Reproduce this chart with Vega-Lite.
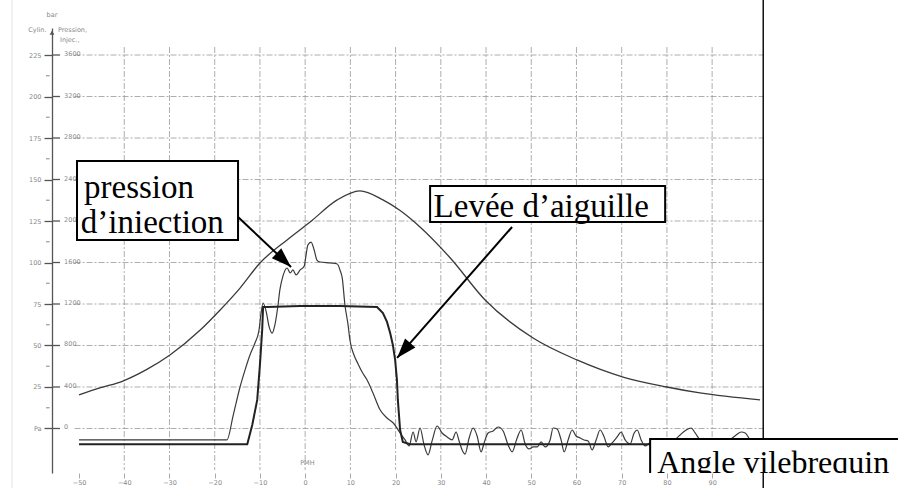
{
  "$schema": "https://vega.github.io/schema/vega-lite/v6.json",
  "width": 846,
  "height": 445,
  "autosize": {"type": "none"},
  "padding": {"left": 52, "top": 28, "right": 0, "bottom": 15},
  "background": "white",
  "config": {
    "view": {"stroke": null},
    "axis": {"grid": false, "title": null, "labelFont": "DejaVu Sans", "labelFontSize": 6.5, "labelColor": "#888", "labelFlush": false, "labelOverlap": false},
    "axisX": {"domain": false, "tickSize": 5, "tickColor": "#aaa", "labelPadding": 1},
    "axisY": {"domain": true, "domainColor": "#555", "domainWidth": 1.3, "tickSize": 8, "tickColor": "#555", "tickWidth": 1.3, "labelPadding": 3}
  },
  "datasets": {
    "cyl": [
      {"deg": -50, "val": 20.2}, {"deg": -45.4, "val": 24.4}, {"deg": -40.3, "val": 28.6},
      {"deg": -35, "val": 35.6}, {"deg": -29.9, "val": 44.3}, {"deg": -23.2, "val": 59.3},
      {"deg": -18.8, "val": 71.4}, {"deg": -14.4, "val": 84.6}, {"deg": -10, "val": 99.7},
      {"deg": -4, "val": 113.6}, {"deg": 1.1, "val": 124.4}, {"deg": 7.1, "val": 137.7},
      {"deg": 12.1, "val": 143.1}, {"deg": 17.2, "val": 137.7}, {"deg": 21, "val": 131.3},
      {"deg": 25.4, "val": 121.4}, {"deg": 32.1, "val": 102.7}, {"deg": 39.8, "val": 77.4},
      {"deg": 50.4, "val": 54.5}, {"deg": 60.1, "val": 41.3}, {"deg": 70.3, "val": 31.0},
      {"deg": 80, "val": 25.0}, {"deg": 87.3, "val": 21.4}, {"deg": 100.6, "val": 17.2}
    ],
    "lift": [
      {"deg": -50, "val": -9.5}, {"deg": -12.8, "val": -9.5}, {"deg": -11.7, "val": 2.1},
      {"deg": -10.6, "val": 17.2}, {"deg": -10, "val": 38.3}, {"deg": -9.5, "val": 59.3},
      {"deg": -9.3, "val": 73.2}, {"deg": -8.4, "val": 73.2}, {"deg": -1.1, "val": 73.8},
      {"deg": 7.7, "val": 73.8}, {"deg": 15.9, "val": 73.2}, {"deg": 17.2, "val": 69.6},
      {"deg": 18.1, "val": 64.2}, {"deg": 18.8, "val": 57.5}, {"deg": 19.4, "val": 50.3},
      {"deg": 19.9, "val": 41.3}, {"deg": 20.3, "val": 29.2}, {"deg": 20.5, "val": 17.2},
      {"deg": 21, "val": -0.9}, {"deg": 21.6, "val": -8.1}, {"deg": 23.2, "val": -9.5},
      {"deg": 100.6, "val": -9.5}
    ],
    "inj": [
      {"deg": -50, "val": -6.9}, {"deg": -17.3, "val": -6.9}, {"deg": -15.9, "val": 8.1},
      {"deg": -14.4, "val": 25.0}, {"deg": -13.3, "val": 35.2}, {"deg": -12.2, "val": 44.3},
      {"deg": -11.1, "val": 51.5}, {"deg": -10.2, "val": 59.3}, {"deg": -9.8, "val": 68.4},
      {"deg": -9.3, "val": 75.6}, {"deg": -8.6, "val": 70.2}, {"deg": -8.0, "val": 61.7},
      {"deg": -7.3, "val": 57.5}, {"deg": -6.7, "val": 62.3}, {"deg": -6.0, "val": 74.4},
      {"deg": -5.6, "val": 83.4}, {"deg": -4.9, "val": 91.9}, {"deg": -4.0, "val": 96.7},
      {"deg": -3.3, "val": 93.7}, {"deg": -2.7, "val": 95.5}, {"deg": -2.0, "val": 92.5},
      {"deg": -1.1, "val": 95.5}, {"deg": -0.2, "val": 97.9}, {"deg": 0.2, "val": 104.5},
      {"deg": 0.6, "val": 110.5}, {"deg": 1.3, "val": 112.3}, {"deg": 2.0, "val": 107.5},
      {"deg": 2.6, "val": 101.5}, {"deg": 3.3, "val": 100.3}, {"deg": 5.5, "val": 99.7},
      {"deg": 7.1, "val": 99.1}, {"deg": 7.7, "val": 95.5}, {"deg": 8.2, "val": 90.7},
      {"deg": 8.8, "val": 74.4}, {"deg": 9.5, "val": 62.3}, {"deg": 9.9, "val": 53.3},
      {"deg": 10.8, "val": 44.3}, {"deg": 11.7, "val": 38.9}, {"deg": 12.6, "val": 34.0},
      {"deg": 13.7, "val": 29.2}, {"deg": 15.0, "val": 21.4}, {"deg": 16.6, "val": 11.1},
      {"deg": 18.1, "val": 6.3}, {"deg": 19.5, "val": 3.3}, {"deg": 21.0, "val": -2.7},
      {"deg": 22.1, "val": -6.9}, {"deg": 23.0, "val": -10.5},
      {"deg": 23.87, "val": -2.1}, {"deg": 24.53, "val": -8.1}, {"deg": 25.41, "val": 0.3},
      {"deg": 26.3, "val": -9.9}, {"deg": 27.18, "val": -15.9}, {"deg": 28.07, "val": -7.5},
      {"deg": 29.18, "val": 1.5}, {"deg": 30.28, "val": -2.7}, {"deg": 31.39, "val": -5.1},
      {"deg": 32.49, "val": -6.9}, {"deg": 33.38, "val": -2.1}, {"deg": 34.04, "val": -7.5},
      {"deg": 34.71, "val": -12.9}, {"deg": 35.37, "val": -15.4}, {"deg": 36.26, "val": -5.7},
      {"deg": 37.14, "val": 0.3}, {"deg": 38.03, "val": -4.5}, {"deg": 38.91, "val": -14.1},
      {"deg": 39.57, "val": -8.7}, {"deg": 40.46, "val": -2.7}, {"deg": 41.56, "val": -1.5},
      {"deg": 42.67, "val": 0.9}, {"deg": 43.78, "val": -1.5}, {"deg": 44.88, "val": -9.9},
      {"deg": 45.77, "val": -14.1}, {"deg": 46.88, "val": -5.7}, {"deg": 47.76, "val": -0.9},
      {"deg": 48.65, "val": -9.3}, {"deg": 49.53, "val": -12.3}, {"deg": 50.42, "val": -11.1},
      {"deg": 51.3, "val": -11.1}, {"deg": 52.19, "val": -8.1}, {"deg": 53.07, "val": -11.1},
      {"deg": 54.17, "val": -6.9}, {"deg": 54.83, "val": 0.3}, {"deg": 55.72, "val": -0.3},
      {"deg": 56.6, "val": -6.9}, {"deg": 57.27, "val": -14.1}, {"deg": 58.15, "val": -6.9},
      {"deg": 59.04, "val": -0.9}, {"deg": 59.92, "val": -4.5}, {"deg": 60.81, "val": -5.7},
      {"deg": 61.69, "val": -6.9}, {"deg": 62.58, "val": -7.5}, {"deg": 63.46, "val": -12.9},
      {"deg": 64.35, "val": -6.9}, {"deg": 65.23, "val": -0.9}, {"deg": 66.12, "val": -5.1},
      {"deg": 67.0, "val": -11.1}, {"deg": 67.89, "val": -8.7}, {"deg": 68.99, "val": -5.1},
      {"deg": 69.88, "val": -2.1}, {"deg": 70.76, "val": -6.9}, {"deg": 71.87, "val": -9.3},
      {"deg": 72.75, "val": -2.7}, {"deg": 73.42, "val": -0.9}, {"deg": 74.3, "val": -6.9},
      {"deg": 75.19, "val": -10.5}, {"deg": 76.29, "val": -8.7}, {"deg": 77.4, "val": -9.9},
      {"deg": 78.5, "val": -6.9}, {"deg": 79.61, "val": -9.9}, {"deg": 80.72, "val": -11.1},
      {"deg": 81.82, "val": -6.9}, {"deg": 82.93, "val": -3.9}, {"deg": 84.25, "val": -0.9},
      {"deg": 85.36, "val": 0.3}, {"deg": 86.24, "val": -2.7}, {"deg": 87.35, "val": -6.9},
      {"deg": 88.46, "val": -8.7}, {"deg": 89.56, "val": -8.1}, {"deg": 90.67, "val": -9.9},
      {"deg": 91.77, "val": -11.7}, {"deg": 92.88, "val": -9.9}, {"deg": 93.99, "val": -6.9},
      {"deg": 95.31, "val": -3.9}, {"deg": 96.42, "val": -2.1}, {"deg": 97.31, "val": -2.7},
      {"deg": 98.41, "val": -6.9}, {"deg": 99.52, "val": -9.3}, {"deg": 100.63, "val": -9.9}
    ],
    "vgrid": [{"g": -40}, {"g": -30}, {"g": -20}, {"g": -10}, {"g": 0}, {"g": 10}, {"g": 20}, {"g": 30}, {"g": 40}, {"g": 50}, {"g": 60}, {"g": 70}, {"g": 80}, {"g": 90}],
    "hgrid": [{"g": 0}, {"g": 25}, {"g": 50}, {"g": 75}, {"g": 100}, {"g": 125}, {"g": 150}, {"g": 175}, {"g": 200}, {"g": 225}],
    "inj_labels": [
      {"v": 0, "lab": "0"}, {"v": 25, "lab": "400"}, {"v": 50, "lab": "800"}, {"v": 75, "lab": "1200"},
      {"v": 100, "lab": "1600"}, {"v": 125, "lab": "2000"}, {"v": 150, "lab": "2400"},
      {"v": 175, "lab": "2800"}, {"v": 200, "lab": "3200"}, {"v": 225, "lab": "3600"}
    ],
    "minor": [{"v": 12.5}, {"v": 37.5}, {"v": 62.5}, {"v": 87.5}, {"v": 112.5}, {"v": 137.5}, {"v": 162.5}, {"v": 187.5}, {"v": 212.5}],
    "boxes": [
      {"x0": -50.45, "x1": -14.84, "y0": 161.1, "y1": 113.6},
      {"x0": 27.63, "x1": 79.61, "y0": 146.1, "y1": 124.4}
    ],
    "box3": [{"x0": 76.29, "x1": 140, "y0": -6.3, "y1": -30}],
    "notes": [
      {"t": "pression", "x": -48.9, "y": 138.9},
      {"t": "d’iniection", "x": -49.6, "y": 118.0},
      {"t": "Levée d’aiguille", "x": 28.4, "y": 127.4}
    ],
    "note3": [{"t": "Angle vilebrequin", "x": 77.85, "y": -26.81}],
    "arrow1": [{"x0": -14.84, "y0": 127.4, "x1": -3.12, "y1": 97.3}],
    "arrow2": [{"x0": 45.76, "y0": 121.4, "x1": 20.33, "y1": 42.5}]
  },
  "layer": [
    {
      "data": {"values": [{"k": 1}]},
      "mark": {"type": "rule", "color": "#e3e3e3", "strokeWidth": 1, "clip": false},
      "encoding": {
        "x": {"datum": -64.83, "type": "quantitative", "scale": {"domain": [-55.98, 131.1], "nice": false, "zero": false}},
        "y": {"datum": 260, "type": "quantitative", "scale": {"domain": [-26.81, 241.27], "nice": false, "zero": false}},
        "y2": {"datum": -36}
      }
    },
    {
      "data": {"name": "vgrid"},
      "mark": {"type": "rule", "color": "#9a9a9a", "strokeWidth": 1, "strokeDash": [6, 2, 2, 2], "opacity": 0.8},
      "encoding": {
        "x": {"field": "g", "type": "quantitative", "title": null,
          "scale": {"domain": [-55.98, 131.1], "nice": false, "zero": false},
          "axis": {"values": [-50, -40, -30, -20, -10, 0, 10, 20, 30, 40, 50, 60, 70, 80, 90]}},
        "y": {"datum": 229.8, "type": "quantitative", "scale": {"domain": [-26.81, 241.27], "nice": false, "zero": false}},
        "y2": {"datum": -25}
      }
    },
    {
      "data": {"name": "hgrid"},
      "mark": {"type": "rule", "color": "#9a9a9a", "strokeWidth": 1, "strokeDash": [6, 2, 2, 2], "opacity": 0.8},
      "encoding": {
        "y": {"field": "g", "type": "quantitative", "title": null,
          "scale": {"domain": [-26.81, 241.27], "nice": false, "zero": false},
          "axis": {"values": [0, 25, 50, 75, 100, 125, 150, 175, 200, 225], "labelExpr": "datum.value == 0 ? 'Pa' : datum.label"}},
        "x": {"datum": -51, "type": "quantitative", "scale": {"domain": [-55.98, 131.1], "nice": false, "zero": false}},
        "x2": {"datum": 101.3}
      }
    },
    {
      "data": {"name": "inj_labels"},
      "mark": {"type": "rule", "color": "#555", "strokeWidth": 1.3},
      "encoding": {
        "y": {"field": "v", "type": "quantitative", "title": null, "scale": {"domain": [-26.81, 241.27], "nice": false, "zero": false}},
        "x": {"datum": -55.98, "type": "quantitative", "scale": {"domain": [-55.98, 131.1], "nice": false, "zero": false}},
        "x2": {"datum": -54.2}
      }
    },
    {
      "data": {"name": "minor"},
      "mark": {"type": "rule", "color": "#999", "strokeWidth": 1.2, "clip": false},
      "encoding": {
        "y": {"field": "v", "type": "quantitative", "title": null, "scale": {"domain": [-26.81, 241.27], "nice": false, "zero": false}},
        "x": {"datum": -57.3, "type": "quantitative", "scale": {"domain": [-55.98, 131.1], "nice": false, "zero": false}},
        "x2": {"datum": -56.5}
      }
    },
    {
      "data": {"name": "inj_labels"},
      "mark": {"type": "text", "align": "left", "baseline": "middle", "dy": -1, "fontSize": 6.5, "color": "#888", "font": "DejaVu Sans"},
      "encoding": {
        "y": {"field": "v", "type": "quantitative", "title": null, "scale": {"domain": [-26.81, 241.27], "nice": false, "zero": false}},
        "x": {"datum": -53.3, "type": "quantitative", "scale": {"domain": [-55.98, 131.1], "nice": false, "zero": false}},
        "text": {"field": "lab"}
      }
    },
    {
      "data": {"values": [{"t": "bar", "x": -55.98, "y": 249.1}]},
      "mark": {"type": "text", "align": "center", "baseline": "middle", "fontSize": 6.5, "color": "#888", "font": "DejaVu Sans", "clip": false},
      "encoding": {
        "x": {"field": "x", "type": "quantitative", "title": null, "scale": {"domain": [-55.98, 131.1], "nice": false, "zero": false}},
        "y": {"field": "y", "type": "quantitative", "title": null, "scale": {"domain": [-26.81, 241.27], "nice": false, "zero": false}},
        "text": {"field": "t"}
      }
    },
    {
      "data": {"values": [{"t": "Cylin.", "x": -57.2, "y": 240.1}]},
      "mark": {"type": "text", "align": "right", "baseline": "middle", "fontSize": 6.5, "color": "#888", "font": "DejaVu Sans", "clip": false},
      "encoding": {
        "x": {"field": "x", "type": "quantitative", "title": null, "scale": {"domain": [-55.98, 131.1], "nice": false, "zero": false}},
        "y": {"field": "y", "type": "quantitative", "title": null, "scale": {"domain": [-26.81, 241.27], "nice": false, "zero": false}},
        "text": {"field": "t"}
      }
    },
    {
      "data": {"values": [{"t": "Pression,", "x": -54.66, "y": 240.1}, {"t": "Injec.,", "x": -54.22, "y": 234.0}, {"t": "PMH", "x": -1.1, "y": -20.8}]},
      "mark": {"type": "text", "align": "left", "baseline": "middle", "fontSize": 6.5, "color": "#888", "font": "DejaVu Sans", "clip": false},
      "encoding": {
        "x": {"field": "x", "type": "quantitative", "title": null, "scale": {"domain": [-55.98, 131.1], "nice": false, "zero": false}},
        "y": {"field": "y", "type": "quantitative", "title": null, "scale": {"domain": [-26.81, 241.27], "nice": false, "zero": false}},
        "text": {"field": "t"}
      }
    },
    {
      "data": {"values": [{"k": 1}]},
      "mark": {"type": "point", "shape": "triangle-up", "size": 22, "filled": true, "color": "#555", "opacity": 1},
      "encoding": {
        "x": {"datum": -55.98, "type": "quantitative", "scale": {"domain": [-55.98, 131.1], "nice": false, "zero": false}},
        "y": {"datum": 238.5, "type": "quantitative", "scale": {"domain": [-26.81, 241.27], "nice": false, "zero": false}}
      }
    },
    {
      "data": {"values": [{"k": 1}]},
      "mark": {"type": "rule", "color": "#111", "strokeWidth": 1.5, "clip": false},
      "encoding": {
        "x": {"datum": 101.3, "type": "quantitative", "scale": {"domain": [-55.98, 131.1], "nice": false, "zero": false}},
        "y": {"datum": 260, "type": "quantitative", "scale": {"domain": [-26.81, 241.27], "nice": false, "zero": false}},
        "y2": {"datum": -36}
      }
    },
    {
      "data": {"name": "cyl"},
      "mark": {"type": "line", "color": "#3a3a3a", "strokeWidth": 1.3, "interpolate": "monotone"},
      "encoding": {
        "x": {"field": "deg", "type": "quantitative", "title": null, "scale": {"domain": [-55.98, 131.1], "nice": false, "zero": false}},
        "y": {"field": "val", "type": "quantitative", "title": null, "scale": {"domain": [-26.81, 241.27], "nice": false, "zero": false}}
      }
    },
    {
      "data": {"name": "inj"},
      "mark": {"type": "line", "color": "#3a3a3a", "strokeWidth": 1.2, "interpolate": "monotone"},
      "encoding": {
        "x": {"field": "deg", "type": "quantitative", "title": null, "scale": {"domain": [-55.98, 131.1], "nice": false, "zero": false}},
        "y": {"field": "val", "type": "quantitative", "title": null, "scale": {"domain": [-26.81, 241.27], "nice": false, "zero": false}}
      }
    },
    {
      "data": {"name": "lift"},
      "mark": {"type": "line", "color": "#222", "strokeWidth": 2},
      "encoding": {
        "x": {"field": "deg", "type": "quantitative", "title": null, "scale": {"domain": [-55.98, 131.1], "nice": false, "zero": false}},
        "y": {"field": "val", "type": "quantitative", "title": null, "scale": {"domain": [-26.81, 241.27], "nice": false, "zero": false}}
      }
    },
    {
      "data": {"name": "arrow1"},
      "layer": [
        {
          "mark": {"type": "rule", "color": "black", "strokeWidth": 2},
          "encoding": {
            "x": {"field": "x0", "type": "quantitative", "title": null, "scale": {"domain": [-55.98, 131.1], "nice": false, "zero": false}},
            "y": {"field": "y0", "type": "quantitative", "title": null, "scale": {"domain": [-26.81, 241.27], "nice": false, "zero": false}},
            "x2": {"field": "x1"},
            "y2": {"field": "y1"}
          }
        },
        {
          "mark": {"type": "point", "shape": "M0,0L0.62,1.8L-0.62,1.8Z", "size": 490, "filled": true, "color": "black", "opacity": 1, "angle": 133.3},
          "encoding": {
            "x": {"field": "x1", "type": "quantitative", "title": null, "scale": {"domain": [-55.98, 131.1], "nice": false, "zero": false}},
            "y": {"field": "y1", "type": "quantitative", "title": null, "scale": {"domain": [-26.81, 241.27], "nice": false, "zero": false}}
          }
        }
      ]
    },
    {
      "data": {"name": "arrow2"},
      "layer": [
        {
          "mark": {"type": "rule", "color": "black", "strokeWidth": 2},
          "encoding": {
            "x": {"field": "x0", "type": "quantitative", "title": null, "scale": {"domain": [-55.98, 131.1], "nice": false, "zero": false}},
            "y": {"field": "y0", "type": "quantitative", "title": null, "scale": {"domain": [-26.81, 241.27], "nice": false, "zero": false}},
            "x2": {"field": "x1"},
            "y2": {"field": "y1"}
          }
        },
        {
          "mark": {"type": "point", "shape": "M0,0L0.62,1.8L-0.62,1.8Z", "size": 490, "filled": true, "color": "black", "opacity": 1, "angle": 221.3},
          "encoding": {
            "x": {"field": "x1", "type": "quantitative", "title": null, "scale": {"domain": [-55.98, 131.1], "nice": false, "zero": false}},
            "y": {"field": "y1", "type": "quantitative", "title": null, "scale": {"domain": [-26.81, 241.27], "nice": false, "zero": false}}
          }
        }
      ]
    },
    {
      "data": {"name": "boxes"},
      "mark": {"type": "rect", "fill": "white", "stroke": "black", "strokeWidth": 2},
      "encoding": {
        "x": {"field": "x0", "type": "quantitative", "title": null, "scale": {"domain": [-55.98, 131.1], "nice": false, "zero": false}},
        "x2": {"field": "x1"},
        "y": {"field": "y0", "type": "quantitative", "title": null, "scale": {"domain": [-26.81, 241.27], "nice": false, "zero": false}},
        "y2": {"field": "y1"}
      }
    },
    {
      "data": {"name": "box3"},
      "mark": {"type": "rect", "fill": "white", "stroke": "black", "strokeWidth": 2, "clip": true},
      "encoding": {
        "x": {"field": "x0", "type": "quantitative", "title": null, "scale": {"domain": [-55.98, 131.1], "nice": false, "zero": false}},
        "x2": {"field": "x1"},
        "y": {"field": "y0", "type": "quantitative", "title": null, "scale": {"domain": [-26.81, 241.27], "nice": false, "zero": false}},
        "y2": {"field": "y1"}
      }
    },
    {
      "data": {"name": "notes"},
      "mark": {"type": "text", "align": "left", "baseline": "alphabetic", "font": "Liberation Serif", "fontSize": 33, "color": "black"},
      "encoding": {
        "x": {"field": "x", "type": "quantitative", "title": null, "scale": {"domain": [-55.98, 131.1], "nice": false, "zero": false}},
        "y": {"field": "y", "type": "quantitative", "title": null, "scale": {"domain": [-26.81, 241.27], "nice": false, "zero": false}},
        "text": {"field": "t"}
      }
    },
    {
      "data": {"name": "note3"},
      "mark": {"type": "text", "align": "left", "baseline": "alphabetic", "font": "Liberation Serif", "fontSize": 32, "color": "black", "clip": true},
      "encoding": {
        "x": {"field": "x", "type": "quantitative", "title": null, "scale": {"domain": [-55.98, 131.1], "nice": false, "zero": false}},
        "y": {"field": "y", "type": "quantitative", "title": null, "scale": {"domain": [-26.81, 241.27], "nice": false, "zero": false}},
        "text": {"field": "t"}
      }
    }
  ]
}
